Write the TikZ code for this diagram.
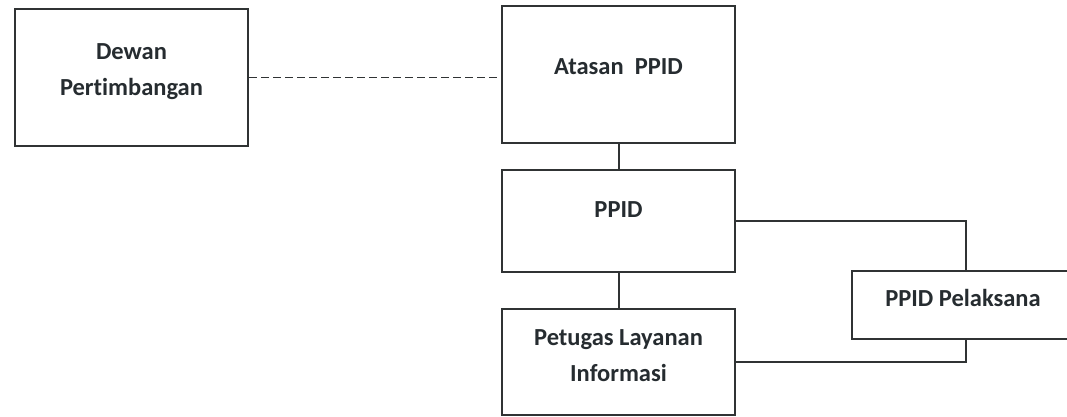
\documentclass[tikz,border=0pt]{standalone}
\usepackage{fontspec}
\setmainfont{Carlito}[Ligatures=NoCommon]
\definecolor{ink}{HTML}{303334}
\definecolor{txt}{HTML}{262C30}
\begin{document}
\begin{tikzpicture}[x=1pt,y=-1pt,
  box/.style={draw=ink, line width=2pt, rectangle, inner sep=0pt},
  lbl/.style={text=txt, font=\fontsize{24.5}{36}\selectfont\bfseries, align=center, inner sep=0pt},
  link/.style={draw=ink, line width=2pt},
  dashlink/.style={draw=ink, line width=1.8pt, dash pattern=on 8pt off 4pt}]
\useasboundingbox (0,0) rectangle (1067,416);
\clip (0,0) rectangle (1067,416);
\fill[white] (0,0) rectangle (1067,416);
% boxes
\node[box, minimum width=233pt, minimum height=137pt] (dewan) at (131.5,77.5) {};
\node[box, minimum width=233pt, minimum height=137pt] (atasan) at (618.5,74.5) {};
\node[box, minimum width=233pt, minimum height=102pt] (ppid) at (618.5,221) {};
\node[box, minimum width=233pt, minimum height=106pt] (petugas) at (618.5,362) {};
\node[box, minimum width=228pt, minimum height=68pt] (pel) at (966,305) {};
% labels
\node[lbl] (tdewan) at (131.5,72) {Dewan\\Pertimbangan};
\node[lbl] (tatasan) at (618.5,67) {Atasan~~PPID};
\node[lbl] (tppid) at (618.5,210) {PPID};
\node[lbl] (tpetugas) at (618.5,356) {Petugas Layanan\\Informasi};
\node[lbl] (tpel) at (963,298) {PPID Pelaksana};
% connectors
\draw[dashlink] (dewan.east) -- (dewan.east -| atasan.west);
\draw[link] (atasan.south) -- (ppid.north);
\draw[link] (ppid.south) -- (petugas.north);
\draw[link] (ppid.east) -| (pel.north);
\draw[link] (pel.south) |- (petugas.east);
\end{tikzpicture}
\end{document}
